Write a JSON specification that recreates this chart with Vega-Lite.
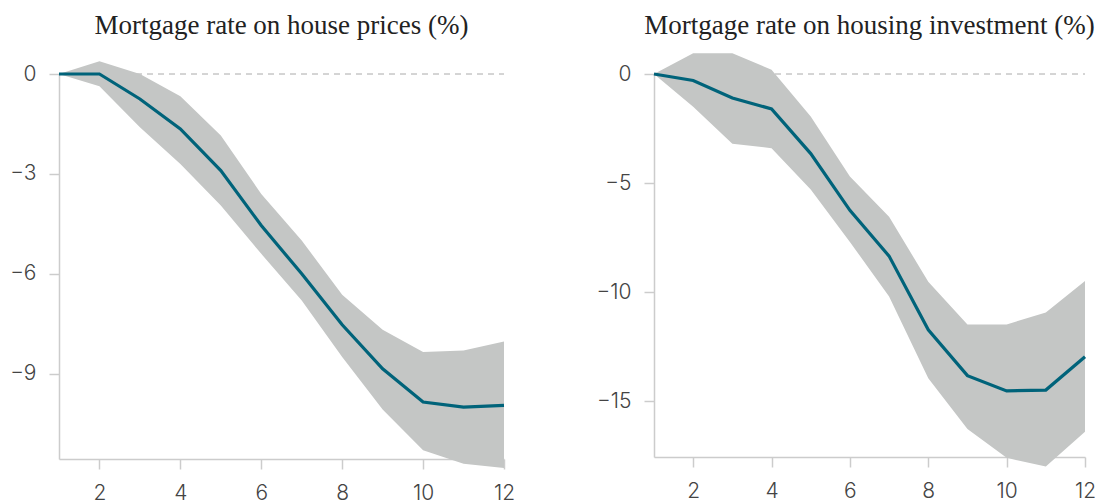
{
  "$schema": "https://vega.github.io/schema/vega-lite/v6.json",
  "padding": {"left": 9, "top": 11, "right": 0, "bottom": 0},
  "background": "white",
  "datasets": {
    "prices": [
      {"h": 1, "mid": 0, "lo": 0, "hi": 0},
      {"h": 2, "mid": 0, "lo": -0.37, "hi": 0.38},
      {"h": 3, "mid": -0.75, "lo": -1.6, "hi": 0.0},
      {"h": 4, "mid": -1.65, "lo": -2.7, "hi": -0.67},
      {"h": 5, "mid": -2.9, "lo": -3.95, "hi": -1.85},
      {"h": 6, "mid": -4.55, "lo": -5.4, "hi": -3.6},
      {"h": 7, "mid": -6.0, "lo": -6.8, "hi": -5.0},
      {"h": 8, "mid": -7.53, "lo": -8.5, "hi": -6.63},
      {"h": 9, "mid": -8.85, "lo": -10.07, "hi": -7.68},
      {"h": 10, "mid": -9.85, "lo": -11.3, "hi": -8.35},
      {"h": 11, "mid": -10.0, "lo": -11.7, "hi": -8.3},
      {"h": 12, "mid": -9.95, "lo": -11.83, "hi": -8.03}
    ],
    "invest": [
      {"h": 1, "mid": 0, "lo": 0, "hi": 0},
      {"h": 2, "mid": -0.3, "lo": -1.5, "hi": 0.95},
      {"h": 3, "mid": -1.1, "lo": -3.2, "hi": 0.95},
      {"h": 4, "mid": -1.6, "lo": -3.4, "hi": 0.2},
      {"h": 5, "mid": -3.65, "lo": -5.3, "hi": -1.95},
      {"h": 6, "mid": -6.25, "lo": -7.7, "hi": -4.7},
      {"h": 7, "mid": -8.35, "lo": -10.2, "hi": -6.55},
      {"h": 8, "mid": -11.73, "lo": -13.95, "hi": -9.52},
      {"h": 9, "mid": -13.83, "lo": -16.28, "hi": -11.48},
      {"h": 10, "mid": -14.53, "lo": -17.6, "hi": -11.48},
      {"h": 11, "mid": -14.49, "lo": -18.0, "hi": -10.93},
      {"h": 12, "mid": -12.96, "lo": -16.4, "hi": -9.49}
    ],
    "zero": [{"h0": 1, "h1": 12, "v": 0}]
  },
  "spacing": 81,
  "hconcat": [
    {
      "width": 445,
      "height": 385,
      "title": {"text": "Mortgage rate on house prices (%)", "offset": 21.5},
      "layer": [
        {
          "data": {"name": "zero"},
          "mark": {"type": "rule", "color": "#aaaaaa", "strokeWidth": 1, "strokeDash": [6, 5]},
          "encoding": {
            "x": {"field": "h0", "type": "quantitative", "scale": {"domain": [1, 12], "nice": false, "zero": false}, "axis": {"values": [2, 4, 6, 8, 10, 12], "title": null}},
            "x2": {"field": "h1"},
            "y": {"field": "v", "type": "quantitative", "scale": {"domain": [-11.56, 0], "nice": false, "zero": false}, "axis": {"values": [0, -3, -6, -9], "title": null}}
          }
        },
        {
          "data": {"name": "prices"},
          "mark": {"type": "area", "color": "#c4c6c5", "opacity": 1, "clip": false},
          "encoding": {
            "x": {"field": "h", "type": "quantitative"},
            "y": {"field": "hi", "type": "quantitative"},
            "y2": {"field": "lo"}
          }
        },
        {
          "data": {"name": "prices"},
          "mark": {"type": "line", "color": "#00637a", "strokeWidth": 3.2, "clip": false},
          "encoding": {
            "x": {"field": "h", "type": "quantitative"},
            "y": {"field": "mid", "type": "quantitative"}
          }
        }
      ]
    },
    {
      "width": 431,
      "height": 383,
      "title": {"text": "Mortgage rate on housing investment (%)", "offset": 13.5},
      "layer": [
        {
          "data": {"name": "zero"},
          "mark": {"type": "rule", "color": "#aaaaaa", "strokeWidth": 1, "strokeDash": [6, 5]},
          "encoding": {
            "x": {"field": "h0", "type": "quantitative", "scale": {"domain": [1, 12], "nice": false, "zero": false}, "axis": {"values": [2, 4, 6, 8, 10, 12], "title": null}},
            "x2": {"field": "h1"},
            "y": {"field": "v", "type": "quantitative", "scale": {"domain": [-17.56, 0], "nice": false, "zero": false}, "axis": {"values": [0, -5, -10, -15], "title": null}}
          }
        },
        {
          "data": {"name": "invest"},
          "mark": {"type": "area", "color": "#c4c6c5", "opacity": 1, "clip": false},
          "encoding": {
            "x": {"field": "h", "type": "quantitative"},
            "y": {"field": "hi", "type": "quantitative"},
            "y2": {"field": "lo"}
          }
        },
        {
          "data": {"name": "invest"},
          "mark": {"type": "line", "color": "#00637a", "strokeWidth": 3.2, "clip": false},
          "encoding": {
            "x": {"field": "h", "type": "quantitative"},
            "y": {"field": "mid", "type": "quantitative"}
          }
        }
      ]
    }
  ],
  "config": {
    "view": {"stroke": null},
    "title": {"font": "Liberation Serif", "fontSize": 27, "fontWeight": "normal", "color": "#222222", "anchor": "middle"},
    "axis": {
      "grid": false,
      "domainColor": "#cccccc",
      "domainWidth": 1.5,
      "tickColor": "#cccccc",
      "tickWidth": 1.5,
      "tickSize": 10,
      "labelFont": "Inter",
      "labelFontWeight": 300,
      "labelFontSize": 21,
      "labelColor": "#444444",
      "labelPadding": 13,
      "labelFlush": false,
      "labelOverlap": false
    },
    "axisX": {"labelPadding": 13}
  }
}
